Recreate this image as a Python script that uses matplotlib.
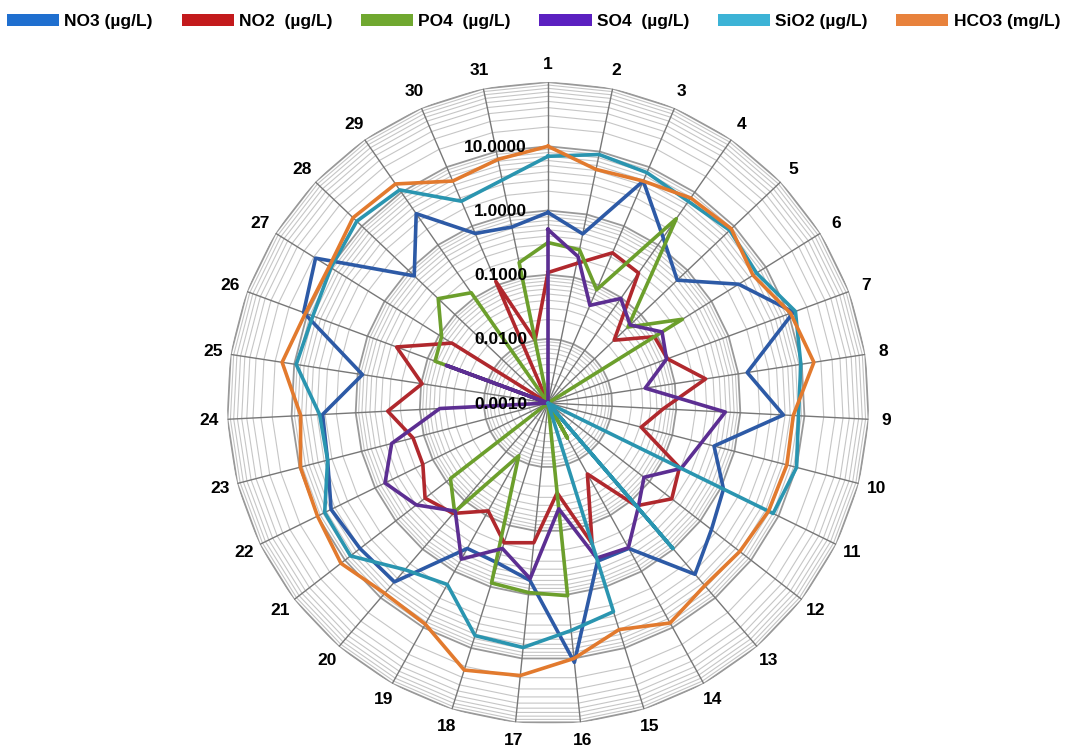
import numpy as np
import matplotlib.pyplot as plt
from matplotlib.patches import Patch
from matplotlib.transforms import offset_copy

plt.rcParams['font.family'] = ['Liberation Sans', 'DejaVu Sans']
plt.rcParams['font.weight'] = 'bold'

stations = [str(i) for i in range(1, 32)]

no3 = [0.93, 0.49, 5.8, 1.38, 0.60, 3.16, 12.0, 1.38, 4.7, 0.47, 1.11, 1.66, 3.28, 0.39, 0.38, 11.5,
       0.60, 0.41, 0.39, 4.7, 5.05, 5.8, 3.52, 3.28, 0.84, 11.5, 18.5, 0.75, 3.93, 0.75, 0.63]
no2 = [0.108, 0.166, 0.352, 0.294, 0.0264, 0.0898, 0.0965, 0.305, 0.0626, 0.0316, 0.191, 0.274, 0.129,
       0.0184, 0.198, 0.0255, 0.154, 0.191, 0.0835, 0.1845, 0.264, 0.1485, 0.1485, 0.316, 0.0965, 0.328,
       0.0583, 0.001, 0.001, 0.1155, 0.010]
po4 = [0.316, 0.274, 0.0835, 3.16, 0.0523, 0.294, 0.001, 0.001, 0.001, 0.001, 0.001, 0.001, 0.001,
       0.0042, 0.001, 1.04, 0.93, 0.866, 0.0087, 0.1715, 0.0835, 0.001, 0.001, 0.001, 0.001, 0.075,
       0.0898, 0.229, 0.124, 0.001, 0.1715]
so4 = [0.505, 0.213, 0.0453, 0.0965, 0.0583, 0.124, 0.093, 0.034, 0.583, 0.294, 0.205, 0.0778, 0.143,
       0.379, 0.340, 0.0453, 0.562, 0.237, 0.604, 0.1655, 0.392, 0.673, 0.328, 0.0487, 0.001, 0.0487,
       0.001, 0.001, 0.001, 0.001, 0.001]
sio2 = [6.98, 8.98, 8.06, 6.73, 8.06, 6.73, 12.9, 9.65, 8.06, 10.0, 8.06, 0.001, 0.965, 0.001, 2.55,
        3.65, 6.73, 6.27, 1.71, 2.64, 7.77, 7.5, 3.52, 3.65, 9.3, 8.06, 9.65, 12.9, 11.1, 2.64, 3.52]
hco3 = [10.0, 5.2, 5.8, 7.8, 8.7, 5.8, 10.7, 15.5, 6.7, 6.98, 6.7, 6.0, 5.6, 8.3, 5.0, 10.0,
        18.5, 22.9, 8.7, 8.06, 12.0, 10.0, 9.65, 7.2, 15.5, 10.7, 10.4, 15.5, 14.4, 5.8, 7.5]

names = ['NO3 (µg/L)', 'NO2  (µg/L)', 'PO4  (µg/L)', 'SO4  (µg/L)', 'SiO2 (µg/L)', 'HCO3 (mg/L)']
line_colors = ['#2d5aa6', '#b0282d', '#6c9f2c', '#5c2e92', '#2a95b0', '#e27a2e']
legend_colors = ['#1f6fcf', '#c31a1c', '#70a830', '#5b20c0', '#3cb3d6', '#e8823c']

rticks = [0.001, 0.01, 0.1, 1, 10]
rtick_labels = ['0.0010', '0.0100', '0.1000', '1.0000', '10.0000']

fig = plt.figure(figsize=(10.78, 7.49), dpi=100)
ax = fig.add_axes([0.2106, 0.0334, 0.5955, 0.857], projection='polar')
ax.set_theta_zero_location('N')
ax.set_theta_direction(-1)
ax.set_rscale('log')
ax.set_rlim(0.001, 100)
ax.grid(False)
ax.spines['polar'].set_visible(False)
ax.set_yticks([])
ax.set_yticks([], minor=True)

theta = np.linspace(0, 2 * np.pi, len(stations), endpoint=False)
th = np.append(theta, theta[0])

# polygon grid like excel
for d in range(-3, 2):
    for k in range(2, 10):
        ax.plot(th, [k * 10.0 ** d] * len(th), color='#c6c6c6', lw=0.8, zorder=1)
for v in [0.01, 0.1, 1, 10, 100]:
    ax.plot(th, [v] * len(th), color='#999999', lw=1.3, zorder=1)
for t in theta:
    ax.plot([t, t], [0.001, 100], color='#777777', lw=1.0, zorder=1)

for vals, c in zip([no3, no2, po4, so4, sio2, hco3], line_colors):
    ax.plot(th, vals + vals[:1], color=c, lw=2.6, zorder=3)

ax.set_xticks(theta)
ax.set_xticklabels(stations, fontsize=12.5, fontweight='bold')
ax.tick_params(axis='x', pad=6, length=0)

trans = offset_copy(ax.transData, fig=fig, x=-21, y=-1, units='dots')
for v, lab in zip(rticks, rtick_labels):
    ax.text(0, v, lab, transform=trans, ha='right', va='center', fontsize=12.5,
            fontweight='bold', zorder=5)

handles = [Patch(facecolor=c, edgecolor='none') for c in legend_colors]
fig.legend(handles, names, loc='upper center', bbox_to_anchor=(0.495, 1.0), ncol=6,
           frameon=False, prop={'size': 12.5, 'weight': 'bold'}, handlelength=3.0,
           handleheight=0.7, handletextpad=0.3, columnspacing=1.65, borderaxespad=0.4)

fig.savefig('out.png', dpi=100)
